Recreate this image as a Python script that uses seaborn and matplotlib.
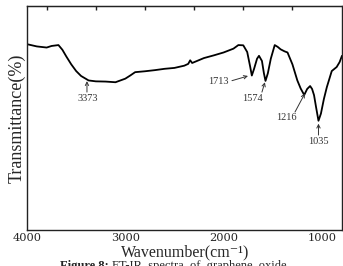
import matplotlib
matplotlib.use("Agg")
import matplotlib.pyplot as plt
import seaborn as sns
import pandas as pd

# Data
wavenumber = [4000, 3900, 3800, 3750, 3680, 3640, 3600, 3550, 3500, 3450, 3373, 3300,
              3200, 3100, 3000, 2950, 2900, 2800, 2700, 2600, 2500, 2400, 2360, 2340,
              2320, 2200, 2100, 2000, 1900, 1850, 1800, 1760, 1730, 1713, 1690, 1660,
              1640, 1610, 1590, 1574, 1550, 1520, 1480, 1450, 1420, 1380, 1350, 1300,
              1250, 1216, 1180, 1150, 1120, 1100, 1080, 1060, 1035, 1010, 980, 950,
              900, 850, 820, 796]
transmittance = [83.0, 82.0, 81.5, 82.2, 82.6, 80.5, 77.5, 74.0, 71.0, 68.8, 66.8, 66.4,
                 66.3, 66.0, 67.6, 69.0, 70.5, 70.9, 71.4, 72.0, 72.4, 73.4, 74.2, 75.8,
                 74.6, 76.8, 78.0, 79.3, 81.0, 82.6, 82.5, 79.5, 73.0, 69.0, 72.0, 76.5,
                 77.8, 75.5, 70.0, 66.6, 70.0, 76.5, 82.6, 81.8, 80.7, 79.8, 79.3, 74.0,
                 66.8, 63.2, 60.3, 63.0, 64.3, 63.0, 60.2, 55.0, 48.8, 52.0, 58.5, 63.8,
                 71.0, 72.8, 75.0, 77.8]
peak_labels = ["3373", "1713", "1574", "1216", "1035"]
bottom_ticks = [4000, 3500, 3000, 2500, 2000, 1500, 1000]
bottom_labels = ["4000", "", "3000", "", "2000", "", "1000"]
top_ticks = [3800, 3300, 2800, 2300, 1800, 1300]

df = pd.DataFrame({"wavenumber": wavenumber, "transmittance": transmittance})

sns.set_style("white")
fig = plt.figure(figsize=(3.43, 2.66), dpi=100)
ax = fig.add_axes([0.0787, 0.1353, 0.9183, 0.8417])

sns.lineplot(data=df, x="wavenumber", y="transmittance", ax=ax,
             color="black", linewidth=1.3, sort=False)

ax.set_xlim(4000, 796)
ax.set_ylim(0, 100)
ax.set_yticks([])
ax.set_xticks(bottom_ticks)
ax.set_xticklabels(bottom_labels, family="DejaVu Serif", fontsize=8.2)
ax.tick_params(axis="x", direction="in", length=3, width=1, color="#222222", pad=2)
for s in ax.spines.values():
    s.set_color("#222222")
    s.set_linewidth(1.0)

top = ax.secondary_xaxis("top")
top.set_xticks(top_ticks)
top.set_xticklabels([""] * len(top_ticks))
top.tick_params(axis="x", direction="in", length=3, width=1, color="#222222")

ax.set_xlabel("")
ax.set_ylabel("Transmittance(%)", family="Liberation Serif", fontsize=13, labelpad=1)
fig.text(0.539, 1 - 252 / 266, "Wavenumber(cm\u207b\u00b9)",
         family=["Liberation Serif", "DejaVu Serif"],
         fontsize=11.5, ha="center", va="center")

# Peak annotations (text position, arrow start, arrow tip)
ann = [
    ((3380, 58.9), (3390, 61.6), (3390, 66.5)),
    ((2057, 66.5), (1915, 66.7), (1752, 68.8)),
    ((1702, 58.9), (1610, 61.6), (1580, 66.0)),
    ((1356, 50.4), (1274, 52.7), (1173, 61.0)),
    ((1040, 39.7), (1035, 42.4), (1035, 47.5)),
]
for lab, (tpos, start, tip) in zip(peak_labels, ann):
    ax.text(tpos[0], tpos[1], lab, ha="center", va="center",
            family="Liberation Serif", fontsize=7.5, color="#333333")
    ax.annotate("", xy=tip, xytext=start,
                arrowprops=dict(arrowstyle="->", color="#333333", lw=0.7,
                                shrinkA=0, shrinkB=0, mutation_scale=6))

# Caption (cut by the bottom edge as in the reference)
cap_y = 1 - 260.5 / 266
fig.text(60 / 343, cap_y, "Figure 8:", family="Liberation Serif", fontsize=9,
         fontweight="bold", ha="left", va="top")
fig.text(112 / 343, cap_y, "FT-IR  spectra  of  graphene  oxide", family="Liberation Serif",
         fontsize=9, ha="left", va="top")

fig.savefig("out.png", dpi=100)
